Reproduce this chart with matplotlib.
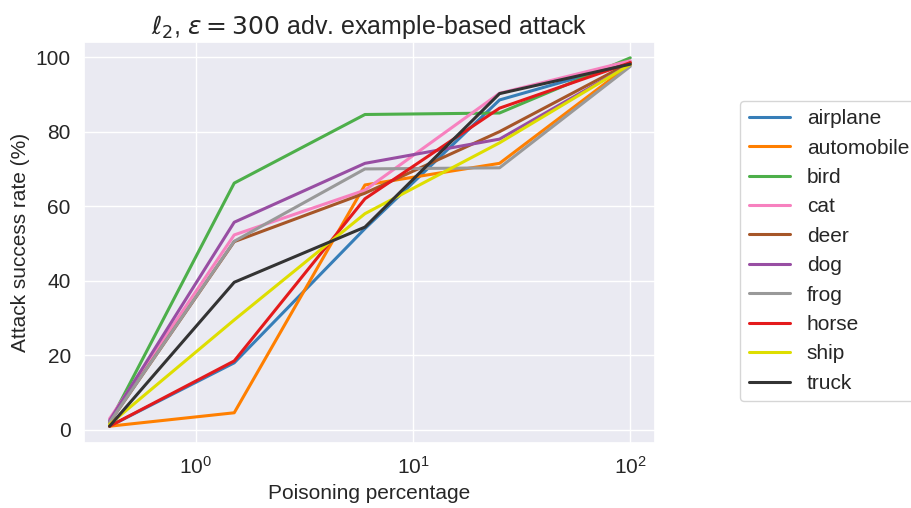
import numpy as np
import matplotlib.pyplot as plt
import seaborn as sns

sns.set_theme(style="darkgrid", font_scale=1.25)
plt.rcParams["font.family"] = ["Liberation Sans", "DejaVu Sans"]

poison_pct = [0.4, 1.5, 6, 25, 100]
classes = ["airplane", "automobile", "bird", "cat", "deer",
           "dog", "frog", "horse", "ship", "truck"]

airplane = [1.0, 18.0, 54.0, 88.5, 98.5]
automobile = [1.0, 4.6, 65.7, 71.5, 98.0]
bird = [2.0, 66.2, 84.6, 85.0, 99.8]
cat = [3.0, 52.3, 64.3, 90.3, 99.0]
deer = [2.0, 50.5, 63.5, 80.0, 98.5]
dog = [2.5, 55.7, 71.5, 78.0, 98.0]
frog = [2.0, 50.6, 70.0, 70.3, 97.5]
horse = [1.0, 18.5, 62.0, 86.3, 98.5]
ship = [1.5, 29.5, 58.0, 77.0, 98.0]
truck = [1.0, 39.6, 54.4, 90.2, 98.1]

series = [airplane, automobile, bird, cat, deer, dog, frog, horse, ship, truck]
colours = ["#377eb8", "#ff7f00", "#4daf4a", "#f781bf", "#a65628",
           "#984ea3", "#999999", "#e41a1c", "#dede00", "#333333"]

fig, ax = plt.subplots(figsize=(9.11, 5.08), dpi=100)
fig.subplots_adjust(left=0.0922, right=0.719, top=0.917, bottom=0.128)

for name, vals, col in zip(classes, series, colours):
    ax.plot(poison_pct, vals, color=col, lw=2.2, label=name)

ax.set_xscale("log")
ax.set_xlim(0.305, 130)
ax.set_ylim(-3.5, 104)
ax.set_xlabel("Poisoning percentage", fontsize=15)
ax.set_ylabel("Attack success rate (%)", fontsize=15)
ax.set_title(r"$\ell_2$, $\epsilon = 300$ adv. example-based attack", fontsize=18)
ax.set_yticks([0, 20, 40, 60, 80, 100])
ax.tick_params(labelsize=15)
ax.legend(loc="center left", bbox_to_anchor=(1.131, 0.479), frameon=True,
          facecolor="white", fontsize=15, labelspacing=0.5, handlelength=2.0)

fig.savefig("out.png", dpi=100)
